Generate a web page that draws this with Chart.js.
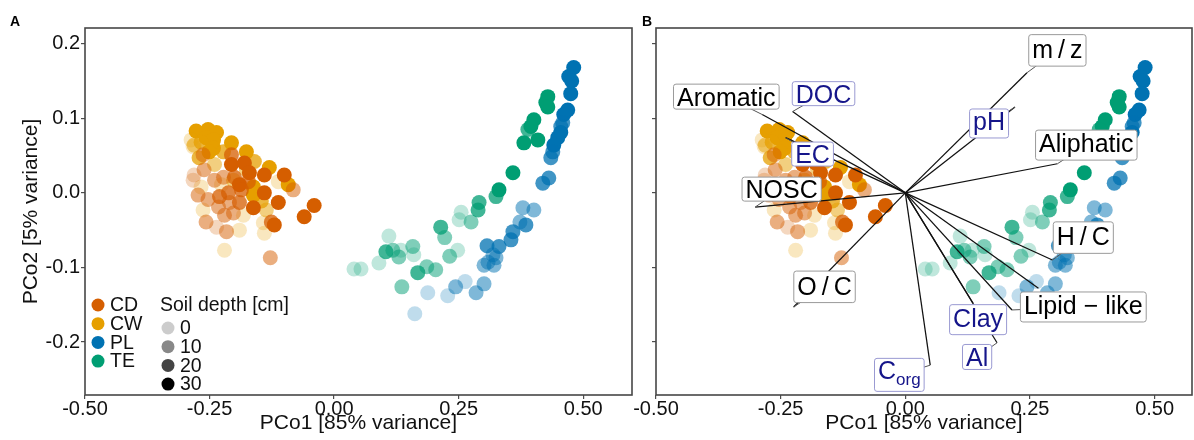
<!DOCTYPE html>
<html><head><meta charset="utf-8">
<script src="https://cdn.jsdelivr.net/npm/chart.js@4.4.0/dist/chart.umd.min.js"></script>
<style>
html,body{margin:0;padding:0;background:#fff;}
#wrap{position:relative;width:1194px;height:440px;overflow:hidden;background:#fff;}
#cA{position:absolute;left:0;top:0;}
#cB{position:absolute;left:600px;top:0;}
</style></head><body>
<div id="wrap"><canvas id="cA" width="640" height="440"></canvas><canvas id="cB" width="594" height="440"></canvas></div>
<script>
const FONT = '"Liberation Sans", Arial, Helvetica, sans-serif';

// ---- categories / legend ----
const groupNames = ['CD', 'CW', 'PL', 'TE'];
const groupColors = ['#D55E00', '#E69F00', '#0072B2', '#009E73'];
const depthLevels = [0, 10, 20, 30];

// ---- tick labels ----
const xTicks = [-0.5, -0.25, 0, 0.25, 0.5];
const xTickLabels = ['-0.50', '-0.25', '0.00', '0.25', '0.50'];
const yTicks = [-0.2, -0.1, 0, 0.1, 0.2];
const yTickLabels = ['-0.2', '-0.1', '0.0', '0.1', '0.2'];

// ---- series (PCo1, PCo2, soil depth) ----
const cdX = [-0.263,-0.206,-0.206,-0.180,-0.170,-0.140,-0.100,-0.082,-0.261,-0.281,-0.240,-0.222,-0.200,-0.190,-0.172,-0.140,-0.186,-0.212,-0.273,-0.253,-0.230,-0.210,-0.190,-0.162,-0.112,-0.232,-0.220,-0.202,-0.257,-0.236,-0.216,-0.126,-0.120,-0.128,-0.060,-0.040,-0.283];
const cdY = [0.051,0.051,0.038,0.040,0.027,0.024,0.024,0.004,0.031,0.024,0.017,0.021,0.021,0.011,0.015,0.000,0.004,0.000,-0.003,-0.009,-0.005,-0.013,-0.013,-0.020,-0.013,-0.019,-0.030,-0.027,-0.039,-0.046,-0.052,-0.039,-0.043,-0.087,-0.032,-0.017,0.017];
const cdDepth = [10,20,30,30,30,30,30,10,10,0,10,10,20,30,20,30,20,20,10,10,20,10,20,30,30,10,10,10,10,0,10,20,30,10,30,30,0];

const cwX = [-0.277,-0.253,-0.236,-0.257,-0.242,-0.281,-0.267,-0.242,-0.251,-0.271,-0.206,-0.222,-0.176,-0.160,-0.130,-0.112,-0.092,-0.240,-0.162,-0.162,-0.146,-0.226,-0.267,-0.263,-0.182,-0.190,-0.142,-0.140,-0.220,-0.283,-0.287,-0.202,-0.176,-0.136];
const cwY = [0.083,0.085,0.081,0.074,0.071,0.064,0.068,0.060,0.055,0.047,0.067,0.055,0.055,0.042,0.034,0.015,0.011,0.038,0.008,-0.003,-0.011,0.011,0.008,-0.023,-0.030,-0.050,-0.040,-0.054,-0.077,0.062,0.071,0.017,0.031,-0.023];
const cwDepth = [30,30,30,30,30,10,20,30,30,20,30,20,30,20,30,0,30,10,30,30,20,0,0,0,0,0,0,0,0,0,0,10,10,10];

const plX = [0.481,0.471,0.477,0.475,0.469,0.461,0.459,0.455,0.455,0.449,0.441,0.439,0.435,0.431,0.419,0.401,0.379,0.385,0.373,0.359,0.355,0.331,0.307,0.319,0.309,0.301,0.321,0.325,0.285,0.301,0.228,0.244,0.263,0.188,0.162];
const plY = [0.168,0.156,0.150,0.133,0.111,0.105,0.094,0.089,0.081,0.074,0.064,0.055,0.047,0.020,0.013,-0.023,-0.020,-0.043,-0.039,-0.052,-0.063,-0.072,-0.071,-0.083,-0.093,-0.097,-0.097,-0.087,-0.134,-0.122,-0.138,-0.126,-0.119,-0.134,-0.162];
const plDepth = [30,30,30,30,30,30,20,20,30,30,30,20,20,20,20,10,10,20,10,20,20,20,20,10,10,10,10,10,10,10,0,10,0,0,0];

const teX = [0.429,0.425,0.429,0.401,0.395,0.389,0.409,0.381,0.359,0.331,0.325,0.291,0.289,0.255,0.251,0.275,0.214,0.222,0.248,0.232,0.110,0.104,0.118,0.134,0.130,0.158,0.160,0.040,0.054,0.090,0.168,0.186,0.204,0.136];
const teY = [0.129,0.121,0.115,0.098,0.089,0.085,0.071,0.067,0.027,0.004,-0.005,-0.013,-0.023,-0.026,-0.036,-0.039,-0.046,-0.060,-0.077,-0.085,-0.058,-0.079,-0.077,-0.077,-0.086,-0.072,-0.083,-0.102,-0.102,-0.094,-0.107,-0.099,-0.103,-0.126];
const teDepth = [30,30,30,30,30,20,30,30,30,30,20,20,20,0,0,10,20,10,0,10,0,20,10,0,10,10,0,0,0,0,20,10,10,10];

// ---- biplot vectors (panel B) ----
const arrowNames = ['m/z','Aromatic','DOC','pH','Aliphatic','EC','NOSC','H/C','O/C','Lipid − like','Clay','Al','C_org',''];
const arrowSoil  = [false,false,true,true,false,true,false,false,false,false,true,true,true,false];
const arrowX = [0.244,-0.287,-0.226,0.220,0.305,-0.240,-0.301,0.295,-0.224,0.214,0.136,0.184,0.050,0.267];
const arrowY = [0.161,0.105,0.109,0.115,0.039,0.074,-0.019,-0.090,-0.153,-0.157,-0.148,-0.201,-0.231,-0.128];
const labelX = [0.305,-0.359,-0.164,0.168,0.363,-0.186,-0.248,0.357,-0.162,0.357,0.146,0.144,-0.012,null];
const labelY = [0.191,0.129,0.133,0.093,0.064,0.052,0.005,-0.060,-0.126,-0.153,-0.170,-0.220,-0.244,null];

function depthAlpha(d){ return 0.25 + 0.75 * d / 30; }
function legendAlpha(d){ return 0.2 + 0.8 * d / 30; }
function rgba(hex, a){
  const n = parseInt(hex.slice(1), 16);
  return `rgba(${(n>>16)&255},${(n>>8)&255},${n&255},${a})`;
}
function makeDataset(xs, ys, ds, gi){
  return {
    label: groupNames[gi],
    data: xs.map((v, i) => ({x: v, y: ys[i]})),
    backgroundColor: ds.map(d => rgba(groupColors[gi], depthAlpha(d))),
    borderWidth: 0,
    pointRadius: 7.5,
    pointHoverRadius: 7.5
  };
}
function datasets(){
  return [
    makeDataset(cdX, cdY, cdDepth, 0),
    makeDataset(cwX, cwY, cwDepth, 1),
    makeDataset(teX, teY, teDepth, 3),
    makeDataset(plX, plY, plDepth, 2)
  ];
}

const borderPlugin = {
  id: 'panelBorder',
  afterDraw(chart, args, opts){
    const {ctx, chartArea: a} = chart;
    ctx.save();
    ctx.strokeStyle = '#474747';
    ctx.lineWidth = 1.6;
    ctx.strokeRect(a.left, a.top, a.right - a.left, a.bottom - a.top);
    ctx.fillStyle = '#000';
    ctx.font = `bold 14px ${FONT}`;
    ctx.textBaseline = 'alphabetic';
    ctx.textAlign = 'left';
    ctx.fillText(opts.tag, opts.tagX, 26);
    ctx.restore();
  }
};

const legendPlugin = {
  id: 'customLegend',
  afterDraw(chart){
    const ctx = chart.ctx;
    ctx.save();
    ctx.font = `19.5px ${FONT}`;
    ctx.textBaseline = 'middle';
    ctx.textAlign = 'left';
    groupNames.forEach((g, i) => {
      const yy = 305 + i * 18.7;
      ctx.fillStyle = groupColors[i];
      ctx.beginPath(); ctx.arc(98, yy, 6.5, 0, Math.PI * 2); ctx.fill();
      ctx.fillStyle = '#111';
      ctx.fillText(g, 110, yy + 1);
    });
    ctx.fillStyle = '#111';
    ctx.fillText('Soil depth [cm]', 160, 306);
    depthLevels.forEach((d, i) => {
      const yy = 328 + i * 18.7;
      ctx.fillStyle = `rgba(0,0,0,${legendAlpha(d)})`;
      ctx.beginPath(); ctx.arc(168, yy, 6.5, 0, Math.PI * 2); ctx.fill();
      ctx.fillStyle = '#111';
      ctx.fillText(String(d), 180, yy + 1);
    });
    ctx.restore();
  }
};

function drawLabel(ctx, text, cx, cy, soil){
  const size = 25;
  let parts;
  if (text.includes('_')) {
    const [a, b] = text.split('_');
    parts = [{t: a, s: size, dy: 0}, {t: b, s: 17, dy: 6}];
  } else {
    parts = [{t: text.replace('/', '\u2009/\u2009'), s: size, dy: 0}];
  }
  let w = 0, asc = 0, desc = 0;
  parts.forEach(p => {
    ctx.font = `${p.s}px ${FONT}`;
    const m = ctx.measureText(p.t);
    p.w = m.width; w += m.width;
    asc = Math.max(asc, m.actualBoundingBoxAscent - p.dy);
    desc = Math.max(desc, m.actualBoundingBoxDescent + p.dy);
  });
  if (text.includes('/')) { asc = Math.max(asc, 0.82 * size); desc = Math.max(desc, 0.2 * size); }
  const padX = 3.5, padY = 3;
  const bw = w + 2 * padX, bh = asc + desc + 2 * padY;
  const bx = cx - bw / 2, by = cy - bh / 2;
  ctx.fillStyle = '#fff';
  ctx.strokeStyle = soil ? '#9a9ad2' : '#9a9a9a';
  ctx.lineWidth = 1;
  ctx.beginPath();
  ctx.roundRect(bx, by, bw, bh, 2.5);
  ctx.fill(); ctx.stroke();
  ctx.fillStyle = soil ? '#15158a' : '#000';
  ctx.textBaseline = 'alphabetic';
  ctx.textAlign = 'left';
  let tx = bx + padX;
  const base = by + padY + asc;
  parts.forEach(p => {
    ctx.font = `${p.s}px ${FONT}`;
    ctx.fillText(p.t, tx, base + p.dy);
    tx += p.w;
  });
}

const biplotPlugin = {
  id: 'biplot',
  afterDatasetsDraw(chart){
    const {ctx, chartArea: ca, scales: {x, y}} = chart;
    const ox = x.getPixelForValue(0), oy = y.getPixelForValue(0);
    ctx.save();
    ctx.beginPath(); ctx.rect(ca.left, ca.top, ca.right - ca.left, ca.bottom - ca.top); ctx.clip();
    ctx.strokeStyle = '#111';
    ctx.lineWidth = 1.25;
    arrowX.forEach((ax, i) => {
      ctx.beginPath();
      ctx.moveTo(ox, oy);
      ctx.lineTo(x.getPixelForValue(ax), y.getPixelForValue(arrowY[i]));
      ctx.stroke();
    });
    const order = [];
    arrowNames.forEach((n, i) => { if (n && labelX[i] !== null) order.push(i); });
    order.forEach(i => {
      ctx.strokeStyle = '#555'; ctx.lineWidth = 1;
      ctx.beginPath();
      ctx.moveTo(x.getPixelForValue(labelX[i]), y.getPixelForValue(labelY[i]));
      ctx.lineTo(x.getPixelForValue(arrowX[i]), y.getPixelForValue(arrowY[i]));
      ctx.stroke();
    });
    order.forEach(i => {
      drawLabel(ctx, arrowNames[i], x.getPixelForValue(labelX[i]), y.getPixelForValue(labelY[i]), arrowSoil[i]);
    });
    ctx.restore();
  }
};

function options(cfg){
  return {
    responsive: false,
    animation: false,
    events: [],
    layout: {autoPadding: false, padding: {top: 28, right: cfg.padRight, left: 0, bottom: 0}},
    plugins: {legend: {display: false}, tooltip: {enabled: false}, panelBorder: {tag: cfg.tag, tagX: cfg.tagX}},
    scales: {
      x: {
        type: 'linear', min: -0.5, max: cfg.xMax,
        afterBuildTicks: s => { s.ticks = xTicks.map(v => ({value: v})); },
        afterFit: s => { s.height = 45; },
        ticks: {callback: (v, i) => xTickLabels[i], color: '#111', font: {family: FONT, size: 20, lineHeight: 1}, padding: 0, maxRotation: 0, autoSkip: false},
        grid: {display: true, drawOnChartArea: false, drawTicks: true, tickLength: 4, color: '#4d4d4d', lineWidth: 1.2},
        border: {display: false},
        title: {display: true, text: 'PCo1 [85% variance]', color: '#111', font: {family: FONT, size: 21}, padding: {top: 0, bottom: 4}}
      },
      y: {
        type: 'linear', min: -0.271, max: 0.221,
        afterBuildTicks: s => { s.ticks = yTicks.map(v => ({value: v})); },
        afterFit: s => { s.width = cfg.yWidth; },
        ticks: {display: cfg.yLabels, callback: (v, i) => yTickLabels[i], color: '#111', font: {family: FONT, size: 20}, padding: 1, autoSkip: false},
        grid: {display: true, drawOnChartArea: false, drawTicks: true, tickLength: 4, color: '#4d4d4d', lineWidth: 1.2},
        border: {display: false},
        title: {display: cfg.yLabels, text: 'PCo2 [5% variance]', color: '#111', font: {family: FONT, size: 21}, padding: {top: 19, bottom: 0}}
      }
    }
  };
}

new Chart(document.getElementById('cA'), {
  type: 'scatter',
  data: {datasets: datasets()},
  options: options({padRight: 8, xMax: 0.598, yWidth: 85, yLabels: true, tag: 'A', tagX: 10}),
  plugins: [legendPlugin, borderPlugin]
});

new Chart(document.getElementById('cB'), {
  type: 'scatter',
  data: {datasets: datasets()},
  options: options({padRight: 2, xMax: 0.575, yWidth: 56, yLabels: false, tag: 'B', tagX: 42}),
  plugins: [biplotPlugin, borderPlugin]
});
</script>
</body></html>
